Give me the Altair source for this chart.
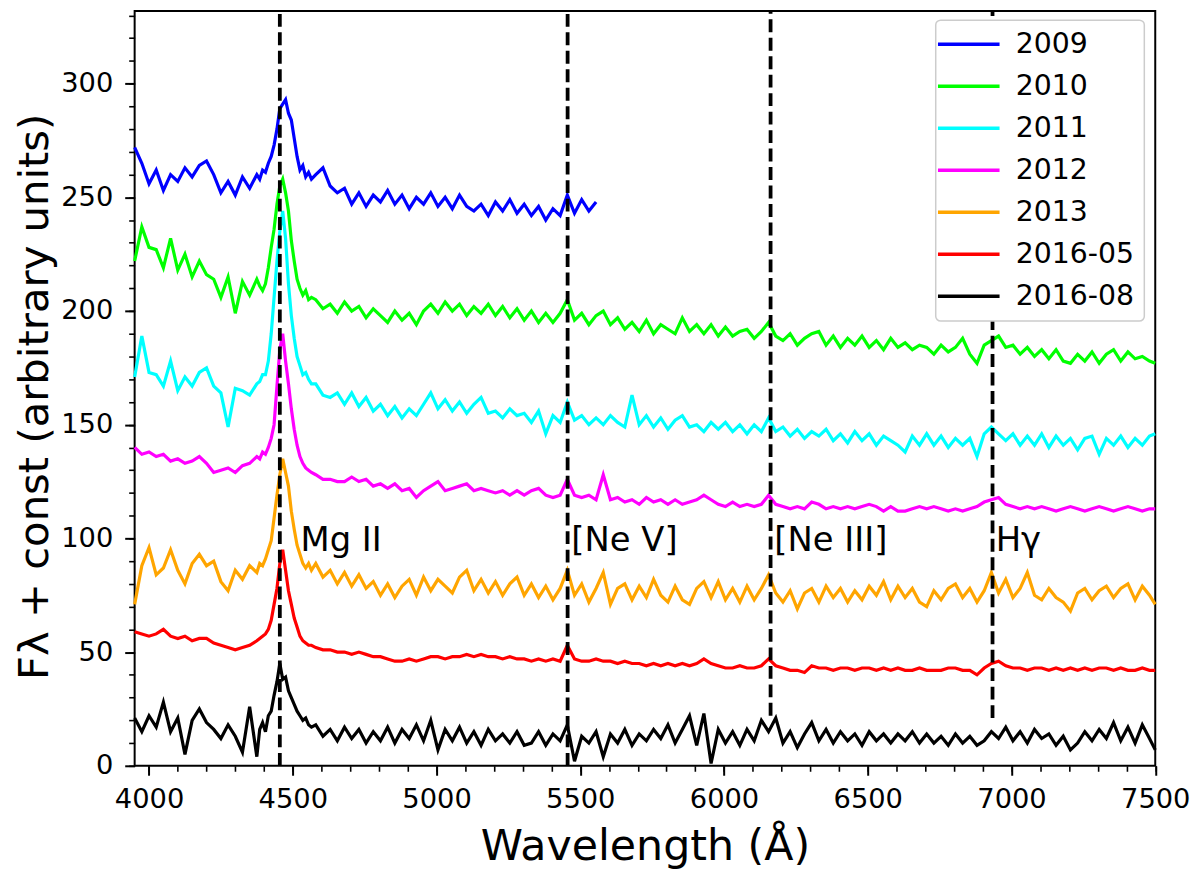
import pandas as pd
import altair as alt

# wavelength grid the spectra were read on (finer around Mg II)
WAVE = (list(range(3950, 4376, 25)) + list(range(4385, 4566, 10))
        + list(range(4580, 7481, 25)) + [7500])

# fluxes, one list per epoch
flux_2009 = [272, 265, 256, 262, 253, 260, 257, 263, 259, 264, 266, 260, 252, 257, 251, 259, 254, 260,
             258, 262, 261, 265, 268, 273, 280, 289, 291, 293, 287, 284, 276, 268, 262, 264, 259, 261, 258,
             260, 263, 255, 252, 254, 247, 252, 246, 251, 248,
             253, 247, 251, 245, 250, 247, 252, 246, 250, 245,
             251, 246, 244, 247, 242, 248, 244, 249, 243, 247,
             242, 246, 240, 245, 242, 251, 243, 249, 244, 248]

flux_2010 = [222, 237, 228, 227, 219, 232, 218, 225, 215, 222, 216, 214, 206, 215, 199, 213, 207, 214,
             211, 209, 212, 219, 228, 236, 247, 255, 258, 252, 244, 231, 222, 214, 210, 207, 209, 205, 206,
             205, 201, 203, 199, 204, 200, 202, 197, 201, 198,
             195, 200, 196, 199, 194, 200, 203, 199, 204, 200,
             203, 198, 202, 199, 203, 198, 202, 197, 201, 196,
             200, 195, 199, 195, 199, 205, 196, 199, 194, 198,
             200, 194, 197, 192, 195, 191, 196, 190, 194, 192,
             190, 197, 191, 194, 190, 194, 189, 193, 189, 191,
             192, 188, 191, 195, 189, 187, 190, 185, 188, 190,
             191, 185, 189, 184, 188, 185, 189, 184, 187, 183,
             188, 184, 186, 183, 185, 184, 181, 185, 182, 184,
             188, 181, 177, 185, 187, 189, 184, 185, 181, 184,
             180, 183, 179, 183, 178, 177, 181, 178, 182, 177,
             181, 183, 178, 182, 179, 180, 178,
             177]

flux_2011 = [171, 189, 173, 172, 167, 178, 165, 171, 167, 173, 175, 167, 164, 149, 166, 165, 163, 168,
             169, 172, 172, 178, 190, 206, 222, 235, 244, 232, 212, 198, 188, 180, 176, 172, 173, 170, 168,
             168, 163, 162, 164, 159, 164, 158, 162, 156, 159,
             154, 158, 153, 157, 154, 159, 164, 157, 161, 156,
             160, 155, 159, 162, 155, 156, 153, 157, 154, 155,
             151, 156, 146, 154, 151, 160, 152, 154, 150, 153,
             150, 154, 151, 149, 163, 150, 154, 149, 153, 148,
             152, 154, 149, 150, 147, 151, 148, 151, 147, 150,
             146, 150, 147, 153, 147, 149, 145, 148, 144, 147,
             145, 148, 143, 146, 142, 147, 143, 146, 141, 145,
             143, 141, 138, 145, 141, 146, 141, 145, 140, 144,
             141, 144, 136, 146, 149, 146, 143, 146, 141, 145,
             141, 146, 140, 145, 141, 144, 139, 144, 145, 137,
             144, 141, 145, 140, 144, 141, 145,
             146]

flux_2012 = [140, 137, 138, 136, 137, 134, 135, 133, 134, 136, 133, 129, 130, 131, 129, 132, 133, 136,
             135, 138, 137, 140, 144, 150, 167, 183, 190, 178, 168, 157, 148, 141, 136, 133, 131, 130, 129,
             128, 126, 126, 125, 125, 127, 125, 126, 123, 124,
             122, 124, 121, 122, 118, 121, 123, 125, 121, 122,
             123, 124, 121, 122, 121, 120, 121, 119, 121, 119,
             121, 122, 119, 118, 119, 126, 119, 118, 119, 117,
             128, 117, 118, 116, 117, 115, 118, 116, 117, 115,
             117, 115, 116, 117, 119, 117, 115, 114, 116, 114,
             115, 114, 115, 119, 115, 114, 113, 114, 113, 116,
             115, 113, 114, 113, 114, 113, 114, 115, 114, 112,
             114, 112, 112, 113, 114, 113, 114, 113, 112, 113,
             112, 113, 114, 116, 117, 118, 115, 114, 113, 114,
             113, 114, 113, 112, 113, 114, 113, 112, 113, 114,
             113, 112, 113, 114, 113, 112, 113,
             113]

flux_2013 = [71, 88, 96, 84, 87, 95, 86, 80, 89, 93, 88, 90, 81, 77, 86, 82, 88, 85,
             89, 88, 91, 95, 99, 109, 119, 128, 135, 129, 123, 112, 104, 97, 93, 89, 87, 89, 86,
             89, 83, 86, 80, 85, 79, 84, 78, 81, 75,
             80, 74, 79, 82, 75, 83, 77, 82, 79, 76,
             83, 86, 77, 82, 76, 81, 75, 80, 83, 75,
             80, 74, 79, 73, 78, 86, 75, 80, 72, 78,
             85, 71, 78, 80, 73, 79, 74, 82, 75, 72,
             79, 73, 71, 78, 81, 74, 81, 73, 78, 72,
             79, 73, 78, 84, 76, 72, 77, 69, 76, 78,
             72, 79, 74, 78, 72, 77, 73, 79, 75, 81,
             73, 79, 74, 78, 72, 70, 77, 73, 78, 80,
             74, 78, 72, 77, 85, 76, 82, 74, 78, 85,
             75, 73, 78, 74, 72, 68, 76, 78, 73, 77,
             79, 74, 78, 80, 73, 79, 75,
             71]

flux_2016_05 = [59, 58, 57, 58, 60, 57, 56, 57, 55, 56, 56, 54, 53, 52, 51, 52, 53, 55,
                56, 57, 58, 60, 64, 71, 78, 89, 95, 86, 77, 71, 65, 61, 57, 55, 54, 53, 53,
                52, 51, 51, 50, 50, 49, 50, 49, 48, 48,
                47, 46, 46, 47, 46, 47, 48, 48, 47, 48,
                48, 49, 48, 49, 48, 48, 47, 48, 47, 47,
                46, 47, 46, 47, 46, 53, 47, 46, 46, 47,
                46, 46, 45, 46, 45, 45, 44, 45, 44, 45,
                44, 45, 44, 45, 47, 45, 44, 43, 43, 44,
                43, 43, 44, 47, 44, 43, 42, 42, 41, 44,
                43, 43, 42, 43, 43, 42, 43, 43, 42, 43,
                42, 43, 42, 42, 43, 42, 42, 42, 43, 43,
                42, 42, 40, 43, 45, 46, 44, 43, 43, 42,
                43, 43, 42, 43, 42, 43, 42, 43, 42, 43,
                43, 42, 43, 42, 42, 43, 42,
                42]

flux_2016_08 = [21, 15, 22, 17, 28, 15, 21, 5, 20, 25, 19, 16, 12, 18, 13, 6, 26, 4,
                16, 19, 15, 22, 24, 31, 37, 45, 38, 39, 33, 30, 27, 24, 22, 20, 21, 18, 17,
                18, 13, 16, 11, 17, 12, 16, 10, 15, 11,
                17, 10, 16, 12, 18, 11, 20, 7, 16, 11,
                17, 10, 15, 9, 16, 11, 14, 10, 15, 9,
                10, 15, 9, 14, 11, 18, 2, 13, 10, 15,
                4, 14, 10, 16, 9, 14, 11, 16, 12, 18,
                10, 16, 22, 9, 23, 1, 16, 10, 15, 9,
                16, 11, 20, 15, 21, 10, 15, 8, 14, 19,
                11, 16, 10, 15, 11, 14, 9, 15, 11, 14,
                10, 14, 11, 15, 10, 14, 10, 13, 9, 14,
                10, 13, 9, 11, 15, 12, 17, 11, 15, 10,
                16, 12, 14, 9, 13, 7, 10, 15, 11, 16,
                12, 19, 11, 17, 10, 18, 12,
                7]

epochs = ["2009", "2010", "2011", "2012", "2013", "2016-05", "2016-08"]
colours = ["#0000ff", "#00ff00", "#00ffff", "#ff00ff", "#ffa500", "#ff0000", "#000000"]
fluxes = [flux_2009, flux_2010, flux_2011, flux_2012, flux_2013, flux_2016_05, flux_2016_08]

# emission lines marked with dashed lines
line_names = ["Mg II", "[Ne V]", "[Ne III]", "Hγ"]
line_waves = [4455, 5456, 6162, 6934]
line_bottom = [0, 0, 22, 21]
label_waves = [4527, 5469, 6175, 6945]
label_flux = [94.5, 94.5, 94.5, 94.5]

x_ticks = list(range(4000, 7501, 500))
x_minor = list(range(4000, 7501, 100))
y_ticks = list(range(0, 301, 50))
y_minor = list(range(0, 331, 10))

########################################################################################
# put the spectra in long form
frames = []
for epoch, flux in zip(epochs, fluxes):
    frames.append(pd.DataFrame({"wave": WAVE[:len(flux)], "flux": flux, "epoch": epoch}))
df_spec = pd.concat(frames, ignore_index=True)

df_lines = pd.DataFrame({"wave": line_waves, "bottom": line_bottom, "top": [332] * len(line_waves)})
df_notes = pd.DataFrame({"wave": label_waves, "flux": label_flux, "text": line_names})

x_scale = alt.Scale(domain=[3950, 7500], nice=False, zero=False)
y_scale = alt.Scale(domain=[0, 332], nice=False, zero=False)

########################################################################################
spectra = alt.Chart(df_spec).mark_line(strokeWidth=3.2).encode(
    x=alt.X('wave:Q', scale=x_scale,
            axis=alt.Axis(orient='bottom', values=x_ticks, format='d', title='Wavelength (Å)',
                          titleFontSize=43, titleFontWeight='normal', titleBaseline='alphabetic',
                          titleY=94, titleColor='black',
                          labelFontSize=27.5, labelBaseline='alphabetic', labelPadding=32.5,
                          labelFlush=False, labelOverlap=False, labelColor='black',
                          tickSize=9.5, tickWidth=2, tickColor='black', domain=False, grid=False)),
    y=alt.Y('flux:Q', scale=y_scale,
            axis=alt.Axis(orient='left', values=y_ticks, format='d', title='Fλ + const (arbitrary units)',
                          titleFontSize=42, titleFontWeight='normal', titleAngle=270,
                          titleBaseline='alphabetic', titleAlign='center', titleX=-88, titleY=388,
                          titleColor='black',
                          labelFontSize=27.5, labelPadding=12, labelColor='black', labelOverlap=False,
                          tickSize=10, tickWidth=2, tickColor='black', domain=False, grid=False)),
    color=alt.Color('epoch:N', scale=alt.Scale(domain=epochs, range=colours),
                    legend=alt.Legend(title=None, orient='none', legendX=806.5, legendY=9.3,
                                      padding=10, fillColor='white', strokeColor='#cccccc',
                                      cornerRadius=5, symbolType='M-4.4,0H8', symbolSize=100,
                                      symbolStrokeWidth=3.5, labelFontSize=28.5, labelOffset=42,
                                      rowPadding=13.3, labelColor='black'))
)

markers = alt.Chart(df_lines).mark_rule(strokeDash=[13, 5.6], strokeWidth=3.8, color='black').encode(
    x=alt.X('wave:Q', scale=x_scale,
            axis=alt.Axis(orient='bottom', values=x_minor, labels=False, tickSize=5.5, tickWidth=1.6,
                          tickColor='black', domain=False, grid=False, title=None)),
    y=alt.Y('bottom:Q', scale=y_scale,
            axis=alt.Axis(orient='left', values=y_minor, labels=False, tickSize=6, tickWidth=1.6,
                          tickColor='black', domain=False, grid=False, title=None)),
    y2='top:Q'
)

notes = alt.Chart(df_notes).mark_text(align='left', baseline='alphabetic', fontSize=34, color='black').encode(
    x=alt.X('wave:Q', scale=x_scale, axis=None),
    y=alt.Y('flux:Q', scale=y_scale, axis=None),
    text='text:N'
)

chart = alt.layer(spectra, markers, notes).resolve_axis(
    x='independent', y='independent'
).properties(
    width=1027.5, height=760,
    autosize=alt.AutoSizeParams(type='none'),
    padding={'left': 127.5, 'top': 0, 'right': 37, 'bottom': 103}
).configure(
    font='DejaVu Sans'
).configure_view(
    stroke='black', strokeWidth=2
).configure_legend(
    strokeWidth=1.5
)

chart.save('out.html', embed_options={"renderer": "svg", "actions": False})
